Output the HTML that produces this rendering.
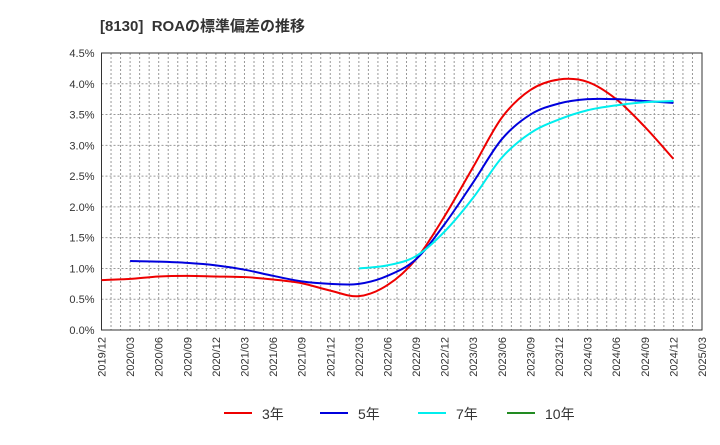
<!DOCTYPE html>
<html><head><meta charset="utf-8"><style>
body{margin:0;background:#fff;font-family:"Liberation Sans","Noto Sans CJK JP",sans-serif;}
</style></head><body>
<svg id="c" width="720" height="440" xmlns="http://www.w3.org/2000/svg">
<text x="100" y="31" font-size="15" font-weight="bold" fill="#333" font-family="Liberation Sans, Noto Sans CJK JP, sans-serif">[8130]&#160; ROAの標準偏差の推移</text>
<g id="grid"></g><g id="axes"></g><g id="series"></g><g id="legend"></g>
</svg>
<script>
const xLabels=["2019/12","2020/03","2020/06","2020/09","2020/12","2021/03","2021/06","2021/09","2021/12","2022/03","2022/06","2022/09","2022/12","2023/03","2023/06","2023/09","2023/12","2024/03","2024/06","2024/09","2024/12","2025/03"];
const yTicks=[0,0.5,1,1.5,2,2.5,3,3.5,4,4.5];
const s3=[0.81,0.83,0.87,0.88,0.87,0.86,0.82,0.76,0.64,0.55,0.73,1.15,1.85,2.65,3.45,3.9,4.07,4.03,3.75,3.3,2.78];
const s5=[null,1.12,1.11,1.09,1.05,0.98,0.88,0.79,0.75,0.75,0.88,1.15,1.72,2.4,3.1,3.5,3.68,3.75,3.75,3.72,3.69];
const s7=[null,null,null,null,null,null,null,null,null,1.0,1.05,1.2,1.6,2.15,2.8,3.2,3.42,3.57,3.65,3.7,3.72];
const s10=[];
const L=101.5,R=702,T=53,B=330;
const X=i=>L+(R-L)*i/(xLabels.length-1);
const Y=v=>B-(B-T)*v/4.5;
const NS="http://www.w3.org/2000/svg";
function mk(p,t,a){const e=document.createElementNS(NS,t);for(const k in a)e.setAttribute(k,a[k]);p.appendChild(e);return e;}
const g=document.getElementById('grid'),ax=document.getElementById('axes'),se=document.getElementById('series'),lg=document.getElementById('legend');
mk(g,'rect',{x:L,y:T,width:R-L,height:B-T,fill:'#fff'});
for(let m=1;m<(xLabels.length-1)*3;m++){const x=L+(R-L)*m/((xLabels.length-1)*3);
const l=mk(g,'line',{x1:x,x2:x,y1:T,y2:B,stroke:'#999','stroke-dasharray':'2,2','stroke-width':1});

}
yTicks.forEach(v=>{const y=Y(v);
if(v>0&&v<4.5){const l=mk(g,'line',{x1:L,x2:R,y1:y,y2:y,stroke:'#999','stroke-dasharray':'2,2'});

}
const t=mk(ax,'text',{x:L-7,y:y+4,'font-size':11,'text-anchor':'end',fill:'#333'});t.textContent=v.toFixed(1)+'%';

});
xLabels.forEach((s,i)=>{const x=X(i);const t=mk(ax,'text',{transform:`translate(${x+4},${B+7}) rotate(-90)`,'font-size':11,'text-anchor':'end',fill:'#333'});t.textContent=s;

});
mk(ax,'rect',{x:L,y:T,width:R-L,height:B-T,fill:'none',stroke:'#333','stroke-width':1});
function path(d){const pts=[];d.forEach((v,i)=>{if(v!=null)pts.push([X(i),Y(v)]);});if(pts.length<2)return '';
let s=`M${pts[0][0]},${pts[0][1]}`;for(let i=0;i<pts.length-1;i++){const p0=pts[Math.max(0,i-1)],p1=pts[i],p2=pts[i+1],p3=pts[Math.min(pts.length-1,i+2)];
s+=` C${p1[0]+(p2[0]-p0[0])/6},${p1[1]+(p2[1]-p0[1])/6} ${p2[0]-(p3[0]-p1[0])/6},${p2[1]-(p3[1]-p1[1])/6} ${p2[0]},${p2[1]}`;}return s;}
const series=[[s3,'#ee0000','3年','series-3y'],[s5,'#0000dd','5年','series-5y'],[s7,'#00eeee','7年','series-7y'],[s10,'#228b22','10年','series-10y']];
series.forEach(([d,c,n,id],k)=>{const p=path(d);if(p){const e=mk(se,'path',{d:p,fill:'none',stroke:c,'stroke-width':2});

}
const lx=[224,320,418,507][k];
const ll=mk(lg,'line',{x1:lx,x2:lx+28,y1:413,y2:413,stroke:c,'stroke-width':2});


const t=mk(lg,'text',{x:lx+38,y:419,'font-size':14,fill:'#333'});t.textContent=n;

});
</script>
</body></html>
